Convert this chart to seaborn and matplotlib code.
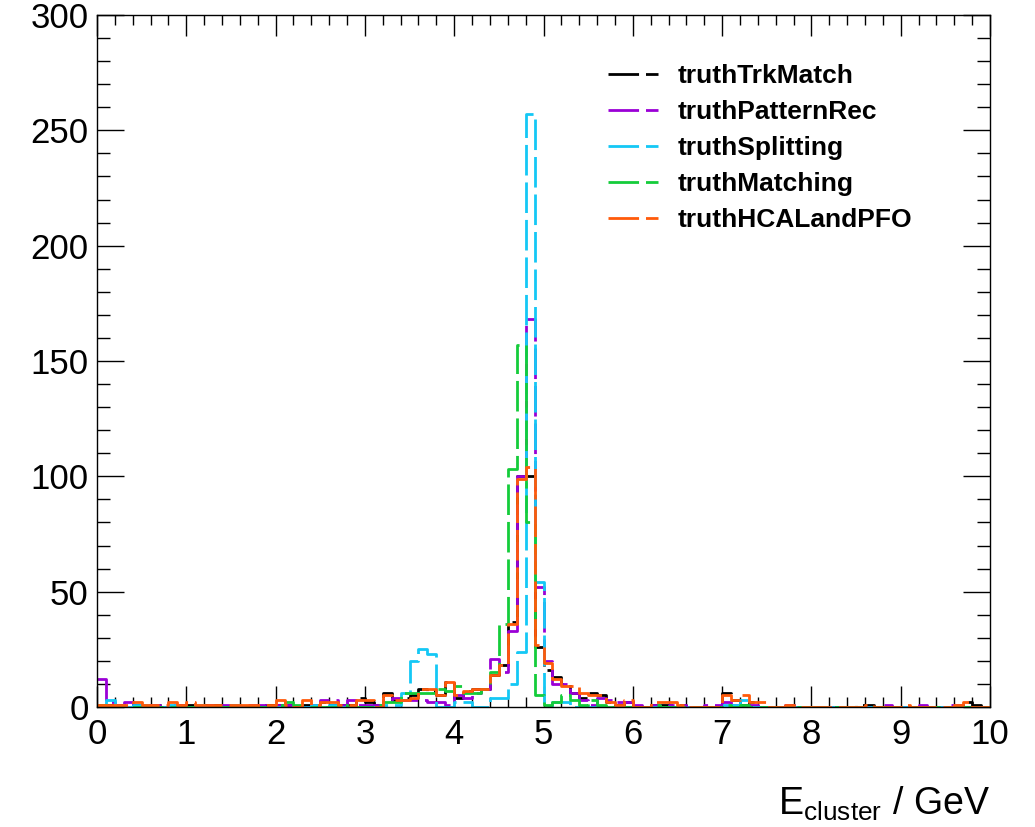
import numpy as np
import pandas as pd
import matplotlib
matplotlib.use('Agg')
import matplotlib.pyplot as plt
from matplotlib.lines import Line2D
from matplotlib.ticker import MultipleLocator
import seaborn as sns

# 100 bins from 0 to 10 GeV
centers = np.arange(100) * 0.1 + 0.05

labels = ['truthTrkMatch', 'truthPatternRec', 'truthSplitting', 'truthMatching', 'truthHCALandPFO']

trk_match = [1, 1, 1, 0, 1, 1, 1, 1, 0, 1,
             1, 0, 1, 1, 0, 1, 0, 0, 1, 1,
             1, 1, 0, 1, 1, 2, 1, 1, 1, 4,
             2, 1, 6, 3, 4, 5, 8, 7, 5, 11,
             4, 7, 8, 8, 14, 18, 37, 100, 100, 26,
             16, 13, 10, 6, 4, 6, 5, 2, 1, 2,
             0, 0, 1, 1, 1, 1, 0, 0, 0, 0,
             6, 3, 1, 2, 0, 0, 0, 1, 0, 0,
             0, 0, 0, 0, 0, 1, 1, 0, 0, 0,
             0, 0, 0, 0, 0, 0, 0, 2, 1, 0]

pattern_rec = [12, 2, 1, 2, 1, 1, 1, 0, 1, 1,
               0, 1, 1, 0, 1, 0, 0, 1, 1, 0,
               1, 1, 0, 0, 1, 3, 3, 1, 3, 1,
               1, 1, 3, 4, 3, 3, 3, 2, 2, 1,
               5, 4, 6, 8, 21, 15, 33, 100, 168, 52,
               20, 10, 10, 6, 3, 1, 4, 3, 2, 2,
               1, 0, 1, 0, 1, 1, 0, 0, 1, 1,
               2, 1, 0, 1, 0, 0, 0, 1, 0, 0,
               0, 0, 0, 0, 0, 0, 0, 0, 1, 0,
               0, 0, 1, 0, 0, 1, 1, 0, 0, 0]

splitting = [0, 3, 1, 0, 1, 1, 0, 0, 1, 0,
             0, 1, 0, 0, 0, 1, 0, 0, 0, 0,
             0, 0, 0, 0, 1, 0, 1, 0, 0, 0,
             0, 0, 1, 1, 6, 20, 25, 23, 0, 0,
             2, 2, 0, 0, 4, 4, 10, 24, 257, 54,
             0, 2, 2, 0, 0, 0, 0, 0, 0, 0,
             0, 0, 0, 0, 0, 0, 0, 0, 0, 0,
             1, 1, 3, 0, 0, 0, 0, 0, 0, 0,
             0, 0, 0, 0, 0, 0, 0, 0, 0, 0,
             0, 0, 0, 0, 0, 0, 0, 0, 0, 0]

matching = [1, 0, 0, 0, 0, 0, 0, 0, 0, 0,
            0, 0, 0, 0, 0, 0, 0, 0, 0, 0,
            1, 2, 1, 0, 0, 0, 0, 1, 0, 0,
            0, 1, 2, 2, 6, 6, 6, 6, 8, 7,
            9, 6, 6, 8, 15, 36, 103, 157, 80, 5,
            1, 2, 5, 3, 1, 3, 1, 0, 0, 0,
            0, 0, 1, 0, 0, 0, 0, 0, 0, 0,
            1, 0, 1, 0, 0, 0, 0, 0, 0, 0,
            0, 0, 0, 0, 0, 0, 0, 0, 0, 0,
            0, 0, 0, 0, 0, 0, 0, 0, 0, 0]

hcal_pfo = [1, 1, 1, 1, 2, 1, 1, 1, 2, 1,
            2, 1, 1, 1, 1, 1, 1, 1, 1, 1,
            3, 1, 0, 3, 1, 2, 2, 1, 1, 3,
            3, 0, 5, 3, 3, 4, 8, 8, 5, 11,
            5, 7, 8, 8, 14, 18, 36, 99, 104, 27,
            19, 12, 9, 9, 6, 5, 5, 2, 1, 3,
            0, 0, 2, 2, 2, 1, 0, 0, 0, 0,
            5, 3, 5, 2, 2, 0, 0, 1, 0, 0,
            0, 0, 0, 0, 0, 0, 1, 0, 0, 0,
            1, 0, 0, 0, 0, 0, 1, 2, 0, 0]

colors = ['#000000', '#9a00d6', '#14c8f5', '#14cc3a', '#ff5a0a']
dash = (0, (11, 2.5))

df = pd.DataFrame({
    'E': np.tile(centers, 5),
    'count': np.concatenate([trk_match, pattern_rec, splitting, matching, hcal_pfo]).astype(float),
    'sample': np.repeat(labels, len(centers)),
})

sns.set_style('ticks')
plt.rcParams['font.family'] = ['Liberation Sans', 'DejaVu Sans']
plt.rcParams['mathtext.fontset'] = 'custom'
plt.rcParams['mathtext.rm'] = 'Liberation Sans'
plt.rcParams['text.color'] = 'black'
plt.rcParams['axes.labelcolor'] = 'black'

fig = plt.figure(figsize=(10.35, 8.27), dpi=100)
ax = fig.add_axes([97 / 1035, 120 / 827, 893 / 1035, 692 / 827])

for lab, col in zip(labels, colors):
    sub = df[df['sample'] == lab]
    sns.histplot(data=sub, x='E', weights='count', binwidth=0.1, binrange=(0, 10),
                 element='step', fill=False, color=col, linewidth=2,
                 linestyle=dash, ax=ax)

ax.set_xlim(0, 10)
ax.set_ylim(0, 300)
ax.set_ylabel('')
ax.set_xlabel(r'E$_{\mathregular{cluster}}$ / GeV', fontsize=27, loc='right',
              labelpad=24, color='black')

ax.xaxis.set_major_locator(MultipleLocator(1))
ax.xaxis.set_minor_locator(MultipleLocator(0.2))
ax.yaxis.set_major_locator(MultipleLocator(50))
ax.yaxis.set_minor_locator(MultipleLocator(10))
ax.tick_params(axis='both', which='both', direction='in', top=True, right=True, colors='black')
ax.tick_params(axis='x', which='major', length=15, width=1, labelsize=25, pad=8)
ax.tick_params(axis='x', which='minor', length=7.5, width=1)
ax.tick_params(axis='y', which='major', length=19.5, width=1, labelsize=25, pad=6)
ax.tick_params(axis='y', which='minor', length=9.7, width=1)
for sp in ax.spines.values():
    sp.set_color('black')
    sp.set_linewidth(1)

handles = [Line2D([], [], color=c, linewidth=2, linestyle=dash) for c in colors]
ax.legend(handles, labels, loc='upper left', bbox_to_anchor=(0.56, 0.944),
          frameon=False, prop={'weight': 'bold', 'size': 19}, handlelength=1.9,
          handletextpad=0.75, labelspacing=0.45, borderaxespad=0, labelcolor='black')

fig.savefig('out.png', dpi=100)
